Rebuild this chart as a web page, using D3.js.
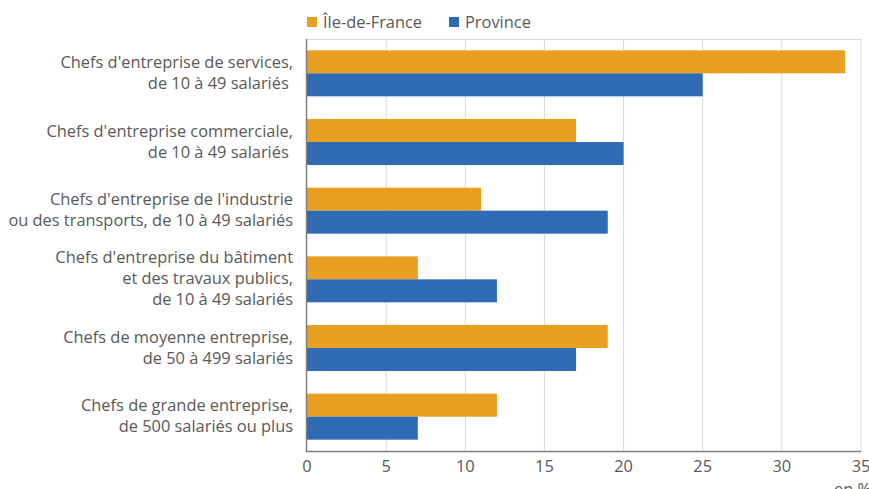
<!DOCTYPE html>
<html>
<head>
<meta charset="utf-8">
<script src="https://cdn.jsdelivr.net/npm/d3@7"></script>
<style>
  body { margin: 0; background: #fff; }
  svg { display: block; font-family: "Open Sans", sans-serif; }
</style>
</head>
<body>
<script>
// categories (each label split on lines) and values in %
const categories = [
  ["Chefs d'entreprise de services,", "de 10 à 49 salariés\u00a0"],
  ["Chefs d'entreprise commerciale,", "de 10 à 49 salariés\u00a0"],
  ["Chefs d'entreprise de l'industrie", "ou des transports, de 10 à 49 salariés"],
  ["Chefs d'entreprise du bâtiment", "et des travaux publics,", "de 10 à 49 salariés"],
  ["Chefs de moyenne entreprise,", "de 50 à 499 salariés"],
  ["Chefs de grande entreprise,", "de 500 salariés ou plus"]
];
const seriesNames = ["Île-de-France", "Province"];
const ileDeFrance = [34, 17, 11, 7, 19, 12];
const province = [25, 20, 19, 12, 17, 7];
const xTicks = [0, 5, 10, 15, 20, 25, 30, 35];
const colors = ["#e89f22", "#2e6bb4"];

const width = 869, height = 489;
const margin = {top: 39, right: 8, bottom: 38, left: 307};
const fontSize = 16.4;

const svg = d3.select('body').append('svg')
    .attr('width', width)
    .attr('height', height);

const x = d3.scaleLinear().domain([0, 35]).range([margin.left, width - margin.right]);
const y = d3.scaleBand().domain(d3.range(categories.length))
    .range([margin.top, height - margin.bottom])
    .paddingInner(0.33).paddingOuter(0.165);
const ySub = d3.scaleBand().domain([0, 1]).range([0, y.bandwidth()]);

// gridlines
svg.append('g').selectAll('line')
    .data(xTicks.slice(1))
    .join('line')
    .attr('x1', d => x(d)).attr('x2', d => x(d))
    .attr('y1', margin.top).attr('y2', height - margin.bottom)
    .attr('stroke', '#d9d9d9').attr('stroke-width', 1);
svg.append('line')
    .attr('x1', margin.left).attr('x2', width - margin.right)
    .attr('y1', margin.top + 0.5).attr('y2', margin.top + 0.5)
    .attr('stroke', '#d9d9d9');

// bars
const groups = svg.append('g').selectAll('g')
    .data(categories.map((c, i) => [ileDeFrance[i], province[i]]))
    .join('g')
    .attr('transform', (d, i) => `translate(0,${y(i)})`);
groups.selectAll('rect')
    .data(d => d)
    .join('rect')
    .attr('x', x(0))
    .attr('y', (d, j) => ySub(j))
    .attr('width', d => x(d) - x(0))
    .attr('height', ySub.bandwidth())
    .attr('fill', (d, j) => colors[j]);

// category labels
const labels = svg.append('g').selectAll('text')
    .data(categories)
    .join('text')
    .attr('text-anchor', 'end')
    .attr('fill', '#595959')
    .attr('font-size', fontSize)
    .attr('y', (d, i) => y(i) + y.bandwidth() / 2);
labels.each(function(lines) {
  const t = d3.select(this);
  const lh = 21;
  const y0 = -((lines.length - 1) * lh) / 2 + 5;
  lines.forEach((l, k) => {
    t.append('tspan').attr('x', 293).attr('dy', k === 0 ? y0 : lh).text(l);
  });
});

// axes lines
svg.append('line')
    .attr('x1', margin.left - 0.5).attr('x2', margin.left - 0.5)
    .attr('y1', margin.top).attr('y2', height - margin.bottom + 0.5)
    .attr('stroke', '#7f7f7f').attr('stroke-width', 1.5);
svg.append('line')
    .attr('x1', margin.left - 1).attr('x2', width - margin.right)
    .attr('y1', height - margin.bottom + 0.5).attr('y2', height - margin.bottom + 0.5)
    .attr('stroke', '#7f7f7f').attr('stroke-width', 1.5);

// x tick labels
svg.append('g').selectAll('text')
    .data(xTicks)
    .join('text')
    .attr('x', d => x(d))
    .attr('y', height - margin.bottom + 21)
    .attr('text-anchor', 'middle')
    .attr('fill', '#595959')
    .attr('font-size', fontSize)
    .text(d => d);
svg.append('text')
    .attr('x', 871).attr('y', 495)
    .attr('text-anchor', 'end')
    .attr('fill', '#595959')
    .attr('font-size', fontSize)
    .text('en %');

// legend
const legend = svg.append('g').selectAll('g')
    .data(seriesNames)
    .join('g')
    .attr('transform', (d, i) => `translate(${[307, 449][i]},17)`);
legend.append('rect')
    .attr('width', 10).attr('height', 10)
    .attr('fill', (d, i) => colors[i]);
legend.append('text')
    .attr('x', 16).attr('y', 11)
    .attr('fill', '#595959')
    .attr('font-size', fontSize)
    .text(d => d);
</script>
</body>
</html>
